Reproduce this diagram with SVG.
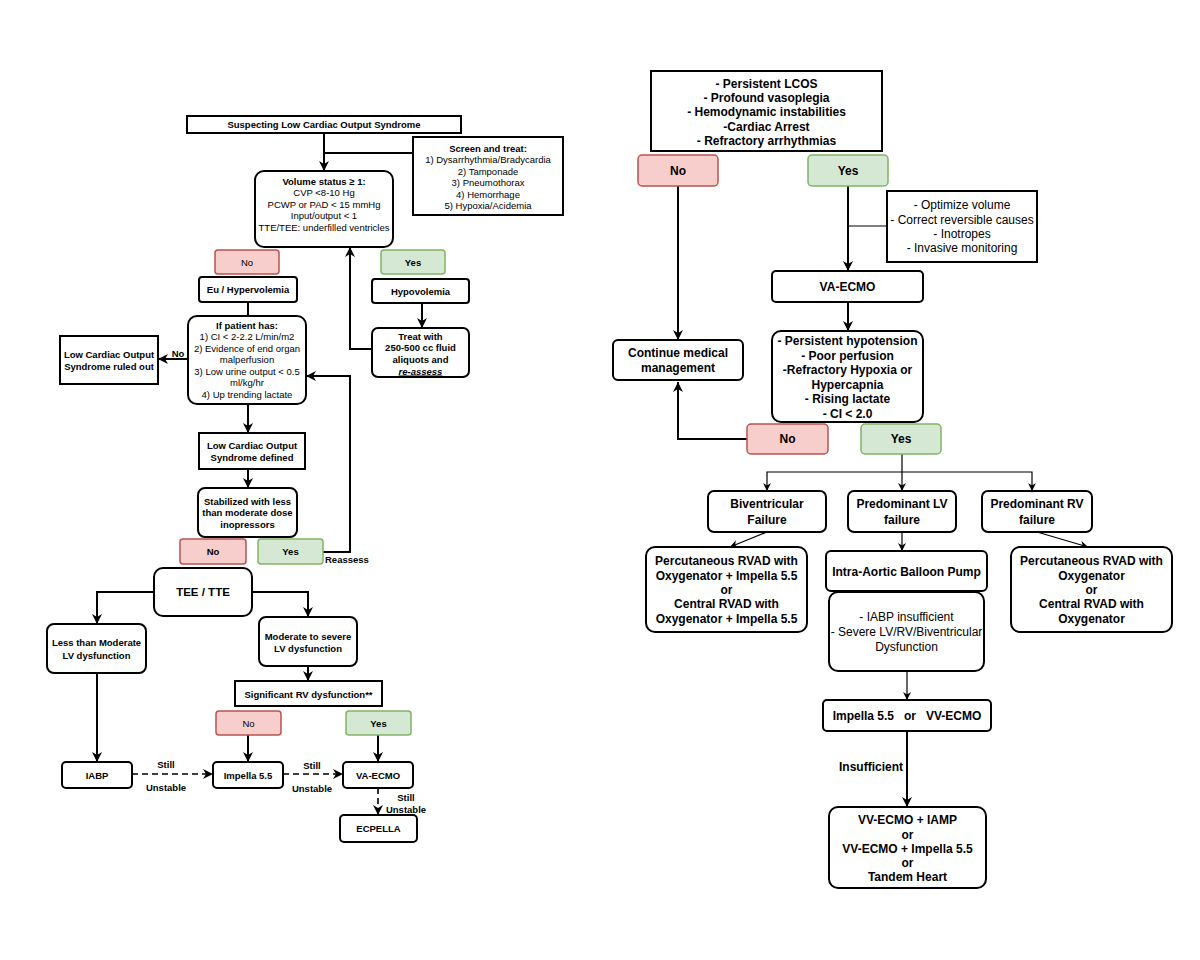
<svg xmlns="http://www.w3.org/2000/svg" width="1200" height="960" viewBox="0 0 1200 960">
<style>
.bx{fill:#fff;stroke:#000;stroke-width:2}
.no{fill:#f8cecc;stroke:#b85450;stroke-width:1.5}
.yes{fill:#d5e8d4;stroke:#82b366;stroke-width:1.5}
text{font-family:"Liberation Sans",Arial,sans-serif;fill:#000;text-anchor:middle}
.s{font-size:9.5px}
.m{font-size:12px}
.b{font-weight:bold}
.c{fill:none;stroke:#000;stroke-width:2}
.t{fill:none;stroke:#000;stroke-width:1.2}
.d{fill:none;stroke:#000;stroke-width:1.6;stroke-dasharray:6 4}
</style>
<defs>
<marker id="a" markerUnits="userSpaceOnUse" markerWidth="11" markerHeight="11" refX="10" refY="5" orient="auto">
<path d="M0,0 L10,5 L0,10 L3,5 z" fill="#000"/>
</marker>
<marker id="as" markerUnits="userSpaceOnUse" markerWidth="9" markerHeight="9" refX="8" refY="4" orient="auto">
<path d="M0,0 L8,4 L0,8 L2.5,4 z" fill="#000"/>
</marker>
</defs>
<rect width="1200" height="960" fill="#fff"/>

<g id="connectors">
<path class="c" d="M324,133 V171" marker-end="url(#a)"/>
<path class="c" d="M324,153 H413"/>
<path class="c" d="M372,349 H350 V247" marker-end="url(#a)"/>
<path class="c" d="M422,303 V328" marker-end="url(#a)"/>
<path class="c" d="M248,302 V316"/>
<path class="c" d="M188,359 H158" marker-end="url(#a)"/>
<path class="c" d="M248,404 V433" marker-end="url(#a)"/>
<path class="c" d="M248,469 V488" marker-end="url(#a)"/>
<path class="c" d="M323,552 H350 V376 H306" marker-end="url(#a)"/>
<path class="c" d="M154,592 H97 V624" marker-end="url(#a)"/>
<path class="c" d="M252,592 H308 V617" marker-end="url(#a)"/>
<path class="c" d="M308,666 V681" marker-end="url(#a)"/>
<path class="c" d="M97,673 V762" marker-end="url(#a)"/>
<path class="c" d="M248,735 V762" marker-end="url(#a)"/>
<path class="c" d="M378,735 V762" marker-end="url(#a)"/>
<path class="d" d="M132,774 H213" marker-end="url(#a)"/>
<path class="d" d="M283,774 H343" marker-end="url(#a)"/>
<path class="d" d="M378,788 V815" marker-end="url(#a)"/>
<text class="s b" x="178" y="356.5">No</text>
<text class="s b" x="325" y="562.5" style="text-anchor:start">Reassess</text>
<text class="s b" x="166" y="767.5">Still</text>
<text class="s b" x="166" y="790.5">Unstable</text>
<text class="s b" x="312" y="768.5">Still</text>
<text class="s b" x="312" y="791.5">Unstable</text>
<text class="s b" x="406" y="800.5">Still</text>
<text class="s b" x="406" y="812.5">Unstable</text>

<path class="c" d="M678,186 V340" marker-end="url(#a)"/>
<path class="c" d="M848,186 V271" marker-end="url(#a)"/>
<path class="t" d="M848,226 H887"/>
<path class="c" d="M848,302 V331" marker-end="url(#a)"/>
<path class="c" d="M747,439 H678 V382" marker-end="url(#a)"/>
<path class="t" d="M902,454 V491" marker-end="url(#as)"/>
<path class="t" d="M902,472 H767 V491" marker-end="url(#as)"/>
<path class="t" d="M902,472 H1032 V491" marker-end="url(#as)"/>
<path class="t" d="M767,532 L730,547" marker-end="url(#as)"/>
<path class="t" d="M902,532 V551" marker-end="url(#as)"/>
<path class="t" d="M1037,532 L1088,547" marker-end="url(#as)"/>
<path class="t" d="M907,671 V700" marker-end="url(#as)"/>
<path class="c" d="M907,731 V807" marker-end="url(#a)"/>
<text class="m b" x="903" y="771" style="text-anchor:end">Insufficient</text>
</g>

<g id="suspecting"><rect class="bx" x="187" y="116" width="274" height="17"/>
<text class="s b" x="324" y="128">Suspecting Low Cardiac Output Syndrome</text></g>

<g id="screen"><rect class="bx" x="413" y="137" width="150" height="78"/>
<text class="s b" x="488" y="151.5">Screen and treat:</text>
<text class="s" x="488" y="163">1) Dysarrhythmia/Bradycardia</text>
<text class="s" x="488" y="174.5">2) Tamponade</text>
<text class="s" x="488" y="186">3) Pneumothorax</text>
<text class="s" x="488" y="197.5">4) Hemorrhage</text>
<text class="s" x="488" y="209">5) Hypoxia/Acidemia</text></g>

<g id="volume"><rect class="bx" x="255" y="171" width="138" height="76" rx="9"/>
<text class="s b" x="324" y="184.5">Volume status ≥ 1:</text>
<text class="s" x="324" y="196">CVP &lt;8-10 Hg</text>
<text class="s" x="324" y="207.5">PCWP or PAD &lt; 15 mmHg</text>
<text class="s" x="324" y="219">Input/output &lt; 1</text>
<text class="s" x="324" y="230.5">TTE/TEE: underfilled ventricles</text></g>

<g id="no1"><rect class="no" x="215" y="250" width="64" height="24" rx="3"/>
<text class="s" x="247" y="265.5">No</text></g>
<g id="yes1"><rect class="yes" x="381" y="250" width="64" height="24" rx="3"/>
<text class="s b" x="413" y="265.5">Yes</text></g>

<g id="eu"><rect class="bx" x="199" y="277" width="98" height="25" rx="3"/>
<text class="s b" x="248" y="293">Eu / Hypervolemia</text></g>
<g id="hypo"><rect class="bx" x="372" y="279" width="97" height="24" rx="3"/>
<text class="s b" x="420.5" y="294.5">Hypovolemia</text></g>

<g id="treat"><rect class="bx" x="372" y="328" width="97" height="49" rx="6"/>
<text class="s b" x="420.5" y="339.5">Treat with</text>
<text class="s b" x="420.5" y="351">250-500 cc fluid</text>
<text class="s b" x="420.5" y="362.5">aliquots and</text>
<text class="s b" x="420.5" y="374.5" style="font-style:italic;text-decoration:underline">re-assess</text></g>

<g id="ifpatient"><rect class="bx" x="188" y="316" width="118" height="88" rx="9"/>
<text class="s b" x="247" y="328.5">If patient has:</text>
<text class="s" x="247" y="340">1) CI &lt; 2-2.2 L/min/m2</text>
<text class="s" x="247" y="351.5">2) Evidence of end organ</text>
<text class="s" x="247" y="363">malperfusion</text>
<text class="s" x="247" y="374.5">3) Low urine output &lt; 0.5</text>
<text class="s" x="247" y="386">ml/kg/hr</text>
<text class="s" x="247" y="397.5">4) Up trending lactate</text></g>

<g id="ruledout"><rect class="bx" x="60" y="336" width="98" height="48"/>
<text class="s b" x="109" y="357.5">Low Cardiac Output</text>
<text class="s b" x="109" y="370">Syndrome ruled out</text></g>

<g id="defined"><rect class="bx" x="199" y="433" width="106" height="36"/>
<text class="s b" x="252" y="448.5">Low Cardiac Output</text>
<text class="s b" x="252" y="460.5">Syndrome defined</text></g>

<g id="stabilized"><rect class="bx" x="198" y="488" width="99" height="49" rx="7"/>
<text class="s b" x="247.5" y="504.5">Stabilized with less</text>
<text class="s b" x="247.5" y="516">than moderate dose</text>
<text class="s b" x="247.5" y="527.5">inopressors</text></g>

<g id="no2"><rect class="no" x="180" y="539" width="66" height="25" rx="3"/>
<text class="s b" x="213" y="555">No</text></g>
<g id="yes2"><rect class="yes" x="258" y="539" width="65" height="25" rx="3"/>
<text class="s b" x="290.5" y="555">Yes</text></g>

<g id="tee"><rect class="bx" x="154" y="568" width="98" height="48" rx="9"/>
<text class="b" x="203" y="596" style="font-size:11.5px">TEE / TTE</text></g>

<g id="lessthan"><rect class="bx" x="47" y="624" width="99" height="49" rx="7"/>
<text class="s b" x="96.5" y="646">Less than Moderate</text>
<text class="s b" x="96.5" y="658.5">LV dysfunction</text></g>

<g id="moderate"><rect class="bx" x="259" y="617" width="98" height="49" rx="7"/>
<text class="s b" x="308" y="639.5">Moderate to severe</text>
<text class="s b" x="308" y="651.5">LV dysfunction</text></g>

<g id="significant"><rect class="bx" x="235" y="681" width="147" height="25"/>
<text class="s b" x="308.5" y="697.5">Significant RV dysfunction**</text></g>

<g id="no3"><rect class="no" x="216" y="711" width="65" height="24" rx="3"/>
<text class="s" x="248.5" y="726.5">No</text></g>
<g id="yes3"><rect class="yes" x="346" y="711" width="65" height="24" rx="3"/>
<text class="s b" x="378.5" y="726.5">Yes</text></g>

<g id="iabp"><rect class="bx" x="62" y="762" width="70" height="26" rx="4"/>
<text class="s b" x="97" y="778.5">IABP</text></g>
<g id="impella"><rect class="bx" x="213" y="762" width="70" height="26" rx="4"/>
<text class="s b" x="248" y="778.5">Impella 5.5</text></g>
<g id="vaecmo"><rect class="bx" x="343" y="762" width="70" height="26" rx="4"/>
<text class="s b" x="378" y="778.5">VA-ECMO</text></g>
<g id="ecpella"><rect class="bx" x="340" y="815" width="77" height="27" rx="4"/>
<text class="s b" x="378.5" y="832">ECPELLA</text></g>

<!-- right chart -->
<g id="criteria"><rect class="bx" x="651" y="71" width="231" height="80"/>
<text class="m b" x="766.5" y="87.8">- Persistent LCOS</text>
<text class="m b" x="766.5" y="102">- Profound vasoplegia</text>
<text class="m b" x="766.5" y="116.3">- Hemodynamic instabilities</text>
<text class="m b" x="766.5" y="130.5">-Cardiac Arrest</text>
<text class="m b" x="766.5" y="144.8">- Refractory arrhythmias</text></g>

<g id="rno1"><rect class="no" x="638" y="155" width="80" height="31" rx="4"/>
<text class="m b" x="678" y="174.8">No</text></g>
<g id="ryes1"><rect class="yes" x="808" y="155" width="80" height="31" rx="4"/>
<text class="m b" x="848" y="174.8">Yes</text></g>

<g id="optimize"><rect class="bx" x="887" y="191" width="150" height="71"/>
<text class="m" x="962" y="209.3">- Optimize volume</text>
<text class="m" x="962" y="223.6">- Correct reversible causes</text>
<text class="m" x="962" y="237.9">- Inotropes</text>
<text class="m" x="962" y="252.3">- Invasive monitoring</text></g>

<g id="rvaecmo"><rect class="bx" x="772" y="271" width="151" height="31" rx="4"/>
<text class="m b" x="847.5" y="291.3">VA-ECMO</text></g>

<g id="persistent"><rect class="bx" x="772" y="331" width="151" height="91" rx="9"/>
<text class="m b" x="847.5" y="345.3">- Persistent hypotension</text>
<text class="m b" x="847.5" y="359.8">- Poor perfusion</text>
<text class="m b" x="847.5" y="374.3">-Refractory Hypoxia or</text>
<text class="m b" x="847.5" y="388.8">Hypercapnia</text>
<text class="m b" x="847.5" y="403.3">- Rising lactate</text>
<text class="m b" x="847.5" y="417.8">- CI &lt; 2.0</text></g>

<g id="continue"><rect class="bx" x="613" y="340" width="130" height="40" rx="5"/>
<text class="m b" x="678" y="357.3">Continue medical</text>
<text class="m b" x="678" y="372.3">management</text></g>

<g id="rno2"><rect class="no" x="747" y="424" width="81" height="30" rx="4"/>
<text class="m b" x="787.5" y="443.3">No</text></g>
<g id="ryes2"><rect class="yes" x="861" y="424" width="80" height="30" rx="4"/>
<text class="m b" x="901" y="443.3">Yes</text></g>

<g id="biv"><rect class="bx" x="708" y="491" width="118" height="41" rx="6"/>
<text class="m b" x="767" y="508.3">Biventricular</text>
<text class="m b" x="767" y="524.3">Failure</text></g>
<g id="lvf"><rect class="bx" x="848" y="491" width="108" height="41" rx="6"/>
<text class="m b" x="902" y="508.3">Predominant LV</text>
<text class="m b" x="902" y="524.3">failure</text></g>
<g id="rvf"><rect class="bx" x="982" y="491" width="110" height="41" rx="6"/>
<text class="m b" x="1037" y="508.3">Predominant RV</text>
<text class="m b" x="1037" y="524.3">failure</text></g>

<g id="percl"><rect class="bx" x="646" y="547" width="161" height="85" rx="9"/>
<text class="m b" x="726.5" y="565.3">Percutaneous RVAD with</text>
<text class="m b" x="726.5" y="579.6">Oxygenator + Impella 5.5</text>
<text class="m b" x="726.5" y="593.9">or</text>
<text class="m b" x="726.5" y="608.2">Central RVAD with</text>
<text class="m b" x="726.5" y="622.5">Oxygenator + Impella 5.5</text></g>

<g id="iabpr"><rect class="bx" x="826" y="551" width="161" height="40" rx="5"/>
<text class="m b" x="906.5" y="576.3">Intra-Aortic Balloon Pump</text></g>

<g id="insuff"><rect class="bx" x="829" y="592" width="155" height="79" rx="9"/>
<text class="m" x="906.5" y="621.3">- IABP insufficient</text>
<text class="m" x="906.5" y="636.3">- Severe LV/RV/Biventricular</text>
<text class="m" x="906.5" y="651.3">Dysfunction</text></g>

<g id="percr"><rect class="bx" x="1011" y="547" width="161" height="85" rx="9"/>
<text class="m b" x="1091.5" y="565.3">Percutaneous RVAD with</text>
<text class="m b" x="1091.5" y="579.6">Oxygenator</text>
<text class="m b" x="1091.5" y="593.9">or</text>
<text class="m b" x="1091.5" y="608.2">Central RVAD with</text>
<text class="m b" x="1091.5" y="622.5">Oxygenator</text></g>

<g id="impvv"><rect class="bx" x="823" y="700" width="168" height="31" rx="4"/>
<text class="m b" x="907" y="720.3" xml:space="preserve">Impella 5.5   or   VV-ECMO</text></g>

<g id="final"><rect class="bx" x="829" y="807" width="157" height="81" rx="9"/>
<text class="m b" x="907.5" y="824.3">VV-ECMO + IAMP</text>
<text class="m b" x="907.5" y="838.5">or</text>
<text class="m b" x="907.5" y="852.8">VV-ECMO + Impella 5.5</text>
<text class="m b" x="907.5" y="867">or</text>
<text class="m b" x="907.5" y="881.3">Tandem Heart</text></g>
</svg>
